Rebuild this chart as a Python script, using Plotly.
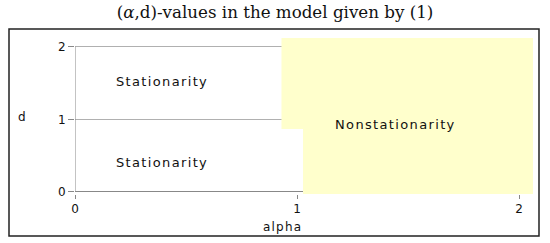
import plotly.graph_objects as go

# Region (alpha, d) boundary of the nonstationarity area
region_alpha = [0.93, 2.063, 2.063, 1.027, 1.027, 0.93, 0.93]
region_d = [2.12, 2.12, -0.029, -0.029, 0.866, 0.866, 2.12]

x_ticks = [0, 1, 2]
y_ticks = [0, 1, 2]

labels = ["Stationarity", "Stationarity", "Nonstationarity"]
label_alpha = [0.394, 0.394, 1.445]
label_d = [1.515, 0.40, 0.93]

fig = go.Figure()
fig.add_trace(go.Scatter(
    x=region_alpha, y=region_d, fill="toself", mode="none",
    fillcolor="#FFFFCC", hoverinfo="skip", showlegend=False,
))

for t, a, d in zip(labels, label_alpha, label_d):
    fig.add_annotation(x=a, y=d, text='<span style="letter-spacing:1.35px">' + t + '</span>',
                       showarrow=False, xanchor="center", yanchor="middle",
                       font=dict(family="DejaVu Sans", size=13, color="#111"))

# y-axis vertical line (alpha = 0, from d=0 to d=2)
fig.add_shape(type="line", xref="x", yref="y", x0=x_ticks[0], x1=x_ticks[0],
              y0=y_ticks[0], y1=y_ticks[-1], line=dict(color="#888", width=1), layer="above")

# outer border
fig.add_shape(type="rect", xref="paper", yref="paper",
              x0=-0.1441, x1=1.0131, y0=-0.2692, y1=1.0577,
              line=dict(color="#222", width=1.5))

fig.add_annotation(xref="paper", yref="paper", x=-0.1157, y=0.4936, text="d",
                   xanchor="center", yanchor="middle",
                   showarrow=False, font=dict(family="DejaVu Sans", size=12, color="#111"))
fig.add_annotation(xref="paper", yref="paper", x=0.452, y=-0.2115,
                   text='<span style="letter-spacing:1.2px">alpha</span>',
                   xanchor="center", yanchor="middle",
                   showarrow=False, font=dict(family="DejaVu Sans", size=12, color="#111"))

fig.update_layout(
    width=550, height=243,
    margin=dict(l=75, r=17, t=38, b=49),
    paper_bgcolor="white", plot_bgcolor="white",
    title=dict(text="(<i>α</i>,d)-values in the model given by (1)", x=0.5, xref="container",
               xanchor="center", y=0.95, yanchor="middle",
               font=dict(family="DejaVu Serif", size=16.7, color="#111")),
    xaxis=dict(range=[0, 2.063], tickvals=x_ticks, showgrid=False, zeroline=False,
               ticks="outside", ticklen=4, tickcolor="#888",
               tickfont=dict(family="DejaVu Sans", size=12, color="#111")),
    yaxis=dict(range=[-0.029, 2.12], tickvals=y_ticks, showgrid=True, gridcolor="#B0B0B0",
               zeroline=True, zerolinecolor="#888", zerolinewidth=1,
               ticks="outside", ticklen=6, tickcolor="#888",
               tickfont=dict(family="DejaVu Sans", size=12, color="#111")),
)

fig.write_html("out.html", config={"displayModeBar": False},
               post_script="document.body.style.margin='0';")
